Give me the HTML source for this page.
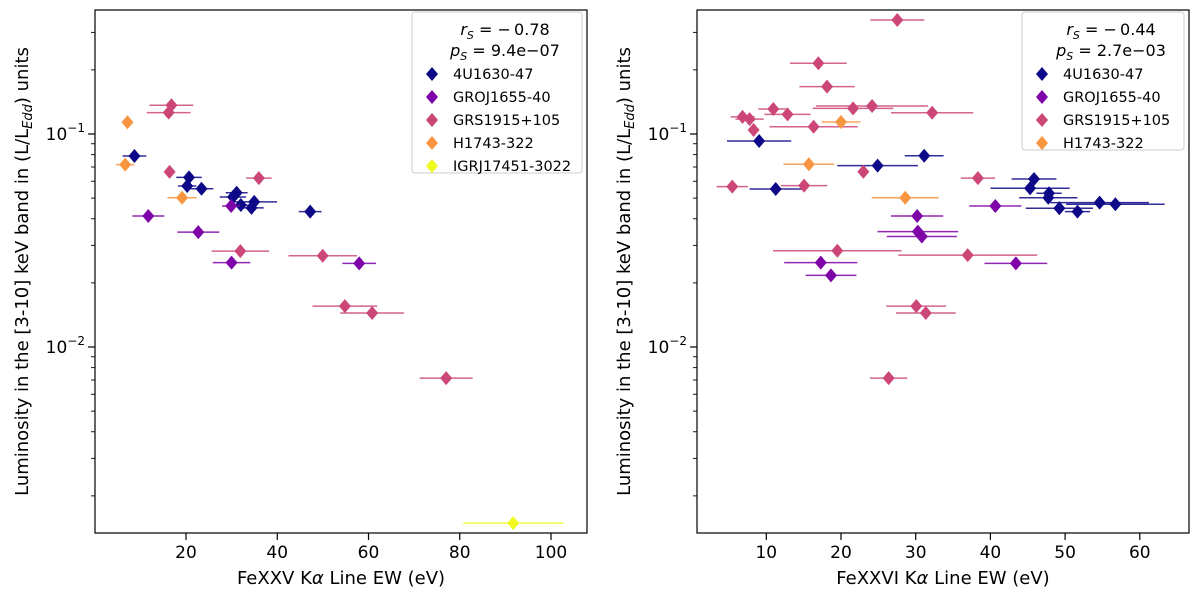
<!DOCTYPE html>
<html><head><meta charset="utf-8"><style>
body{margin:0;background:#fff;font-family:"Liberation Sans","DejaVu Sans",sans-serif}
svg text{font-family:"DejaVu Sans","Liberation Sans",sans-serif}
</style></head><body>
<svg id="c" width="1200" height="600" xmlns="http://www.w3.org/2000/svg"></svg>
<script>
const seriesNames=["4U1630-47","GROJ1655-40","GRS1915+105","H1743-322","IGRJ17451-3022"];
const seriesColors=["#0d0887","#7e03a8","#cc4778","#f89540","#f0f921"];
// left panel: FeXXV EW, luminosity, xerr
const L_x=[[8.7,20.66,20.26,23.4,31.1,30.29,32.02,34.95,34.35,47.22],[11.74,22.69,29.89,29.99,57.96],[16.81,16.2,16.4,35.97,31.91,49.96,54.82,60.8,77.02],[7.18,6.67,19.14],[91.72]];
const L_y=[[0.0788,0.0626,0.057,0.0553,0.053,0.0506,0.0464,0.048,0.045,0.0432],[0.0412,0.0346,0.0459,0.0249,0.0247],[0.1364,0.126,0.0664,0.0621,0.0282,0.0268,0.01556,0.01445,0.00714],[0.1135,0.0718,0.0502],[0.00149]];
const L_e=[[2.6,2.8,2,2.6,2.4,2.9,1.5,5,2.7,2.5],[3.5,4.6,2,4.1,3.7],[4.8,4.8,0,2.8,6.3,7.5,7.1,7,5.8],[0,2,3.2],[11]];
// right panel: FeXXVI EW
const R_x=[[9.04,11.26,24.9,31.14,45.84,45.31,47.85,47.75,49.23,51.66,54.62,56.73],[40.66,30.19,30.29,30.82,43.41,17.29,18.66],[16.97,18.13,10.94,12.84,6.82,7.77,8.3,21.62,24.16,32.2,16.33,22.99,5.44,15.06,19.51,36.96,27.54,38.33,30.08,31.35,26.38],[20.0,15.7,28.6]];
const R_y=[[0.0927,0.0552,0.071,0.0791,0.0615,0.0556,0.0527,0.0502,0.0448,0.0432,0.0476,0.0468],[0.0459,0.0412,0.0348,0.033,0.0247,0.0249,0.0217],[0.2148,0.1668,0.131,0.1236,0.1204,0.1175,0.1044,0.132,0.1353,0.1258,0.1081,0.0665,0.0566,0.0572,0.0283,0.027,0.3428,0.0621,0.01556,0.01445,0.00714],[0.1138,0.0721,0.0502]];
const R_e=[[4.3,3.5,5.4,2.6,3,5.3,1.7,3.9,4.5,1.7,6.6,6.6],[3.5,3.5,5.4,4.7,4.2,4.9,3.4],[3.8,3.7,2,3.1,1.6,1.9,0,5.4,7.5,5.5,5.9,0,2.1,3.1,8.6,9.3,3.6,2.3,4,4,2.5],[2.6,3.4,4.5]];
const L_xticks=[20,40,60,80,100];
const R_xticks=[10,20,30,40,50,60];
const yTickExps=[-1,-2];
const L_stats=["\u2212\u20090.78","9.4e\u221207"];
const R_stats=["\u2212\u20090.44","2.7e\u221203"];

const S=document.getElementById('c');const NS="http://www.w3.org/2000/svg";
function mk(t,a,p){const e=document.createElementNS(NS,t);for(const k in a)e.setAttribute(k,a[k]);(p||S).appendChild(e);return e;}
const T=10,B=533;
function ypx(v){return 134-(Math.log10(v)+1)*213;}
function panel(name,x0px,ppu,left,right,X,Y,E,xt,stats,nser,xlabel){
  const g=mk('g',{});
  
  
  const xp=v=>x0px+v*ppu;
  for(let d=-3;d<=0;d++)for(let m=1;m<10;m++){const v=m*Math.pow(10,d);const y=ypx(v);if(y<T||y>B)continue;
    const tk=mk('line',{x1:left-(m==1?7:4),x2:left,y1:y,y2:y,stroke:'#000','stroke-width':m==1?1.2:0.9},g);
    }
  yTickExps.forEach(ex=>{const y=ypx(Math.pow(10,ex));const t=mk('text',{x:left-10,y:y+6,'text-anchor':'end','font-size':17},g);
    
    t.innerHTML='10<tspan dy="-8" font-size="12">\u2212'+(-ex)+'</tspan>';});
  xt.forEach(v=>{const x=xp(v);mk('line',{x1:x,x2:x,y1:B,y2:B+7,stroke:'#000','stroke-width':1.2},g);
    const t=mk('text',{x:x,y:B+25,'text-anchor':'middle','font-size':17},g);t.textContent=v;
    });
  for(let s=0;s<X.length;s++){const c=seriesColors[s];
    for(let i=0;i<X[s].length;i++){const x=xp(X[s][i]),y=ypx(Y[s][i]),e=E[s][i]*ppu;
      if(e>0){const l=mk('line',{x1:x-e,x2:x+e,y1:y,y2:y,stroke:c,'stroke-width':1.5,opacity:0.85},g);
        }
      const p=mk('polygon',{points:`${x},${y-7} ${x+6},${y} ${x},${y+7} ${x-6},${y}`,fill:c},g);
      }}
  const fr=mk('rect',{x:left,y:T,width:right-left,height:B-T,fill:'none',stroke:'#000','stroke-width':1.2},g);
  
  const lw=right-5-(right==587?412:1022), lx=right-5-lw, lh=nser==5?161:138;
  const lg=mk('g',{},g);
  mk('rect',{x:lx,y:T+2,width:lw,height:lh,rx:3,fill:'#fff',stroke:'#ccc'},lg);
  const cx=lx+lw/2+8;
  let t=mk('text',{x:cx,y:T+25,'text-anchor':'middle','font-size':16},lg);
  t.innerHTML='<tspan font-style="italic">r</tspan><tspan font-style="italic" font-size="11" dy="4">S</tspan><tspan dy="-4"> = '+stats[0]+'</tspan>';
  t=mk('text',{x:cx,y:T+46,'text-anchor':'middle','font-size':16},lg);
  t.innerHTML='<tspan font-style="italic">p</tspan><tspan font-style="italic" font-size="11" dy="4">S</tspan><tspan dy="-4"> = '+stats[1]+'</tspan>';
  for(let s=0;s<nser;s++){const y=T+64+s*23;
    mk('polygon',{points:`${lx+20},${y-7} ${lx+26},${y} ${lx+20},${y+7} ${lx+14},${y}`,fill:seriesColors[s]},lg);
    const e=mk('text',{x:lx+41,y:y+5,'font-size':14.5},lg);e.textContent=seriesNames[s];
    }
  const xl=mk('text',{x:(left+right)/2,y:584,'text-anchor':'middle','font-size':18},g);
  
  xl.innerHTML=xlabel+' K<tspan font-style="italic">\u03b1</tspan> Line EW (eV)';
  const yl=mk('text',{x:0,y:0,'text-anchor':'middle','font-size':18,transform:`translate(${left-67},${(T+B)/2}) rotate(-90)`},g);
  
  yl.innerHTML='Luminosity in the [3-10] keV band in (L/L<tspan font-style="italic" font-size="13" dy="4">Edd</tspan><tspan dy="-4">) units</tspan>';
}
panel('left',94.75,4.5625,95,587,L_x,L_y,L_e,L_xticks,L_stats,5,'FeXXV');
panel('right',691.6,7.47,697,1189,R_x,R_y,R_e,R_xticks,R_stats,4,'FeXXVI');
</script>
</body></html>
